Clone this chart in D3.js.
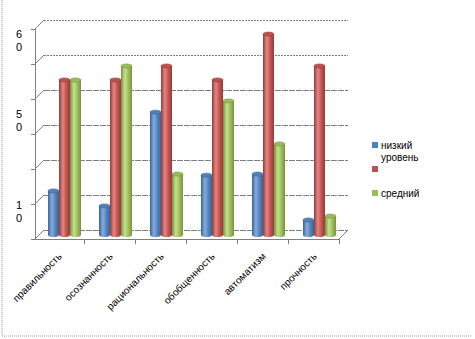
<!DOCTYPE html>
<html><head><meta charset="utf-8">
<script src="https://cdn.jsdelivr.net/npm/d3@7"></script>
<style>body{margin:0;background:#fff}svg{display:block}text{font-family:"Liberation Sans",Arial,sans-serif;fill:#000}</style>
</head><body><svg id="c" width="475" height="339"></svg>
<script>
const categories = ["правильность","осознанность","рациональность","обобщенность","автоматизм","прочность"];
const lowValues = [12.6, 8.3, 35.1, 17.1, 17.4, 4.3];
const highValues = [44.3, 44.3, 48.3, 44.3, 57.4, 48.3];
const midValues = [44.3, 48.3, 17.4, 38.3, 26, 5.4];
const seriesNames = ["низкий уровень", "", "средний"];
const legendLines = [["низкий","уровень"], [], ["средний"]];
const gridValues = [0,10,20,30,40,50,60];
const yLabelTexts = ["60","50","10"];
const yLabelAt = [57, 34, 8];

const colors = [
  {base:"#4F81BD", light:"#86acdc", dark:"#3a6496"},
  {base:"#C0504D", light:"#e48683", dark:"#943b39"},
  {base:"#9BBB59", light:"#c8e08c", dark:"#76923f"}
];
const series = [lowValues, highValues, midValues];

const svg = d3.select("#c");
const defs = svg.append("defs");
colors.forEach((c,i)=>{
  const g = defs.append("linearGradient").attr("id","g"+i).attr("x1","0").attr("x2","1").attr("y1","0").attr("y2","0");
  g.append("stop").attr("offset","0").attr("stop-color",c.dark);
  g.append("stop").attr("offset","0.35").attr("stop-color",c.light);
  g.append("stop").attr("offset","0.7").attr("stop-color",c.base);
  g.append("stop").attr("offset","1").attr("stop-color",c.dark);
});

// frame
svg.append("line").attr("x1",2).attr("x2",2).attr("y1",0).attr("y2",336).attr("stroke","#999").attr("stroke-dasharray","1,1");
svg.append("line").attr("x1",2).attr("x2",472).attr("y1",336).attr("y2",336).attr("stroke","#999").attr("stroke-dasharray","1,1");

const x = d3.scaleBand().domain(categories).range([33,339]);
const y = d3.scaleLinear().domain([0,60]).range([239,29]);
const depth = 9;

// back wall gridlines
gridValues.forEach(v=>{
  svg.append("line").attr("x1",44).attr("x2",348).attr("y1",y(v)-depth+0.5).attr("y2",y(v)-depth+0.5)
    .attr("stroke","#7f7f7f").attr("stroke-dasharray", v>=50 ? "2,1" : "6,1");
  svg.append("line").attr("x1",35).attr("y1",y(v)).attr("x2",44).attr("y2",y(v)-depth).attr("stroke","#7f7f7f");
});

// front axis
svg.append("line").attr("x1",35.5).attr("x2",35.5).attr("y1",y(60)).attr("y2",y(0)).attr("stroke","#7f7f7f");
svg.selectAll(".yt").data(gridValues).join("line").attr("x1",31).attr("x2",35).attr("y1",d=>y(d)+0.5).attr("y2",d=>y(d)+0.5).attr("stroke","#7f7f7f");
// floor
svg.append("line").attr("x1",35).attr("x2",339).attr("y1",y(0)+0.5).attr("y2",y(0)+0.5).attr("stroke","#7f7f7f");
svg.append("line").attr("x1",339).attr("y1",y(0)).attr("x2",348).attr("y2",y(0)-depth).attr("stroke","#7f7f7f");
const bounds = categories.map(c=>x(c)).concat([x(categories[categories.length-1])+x.bandwidth()]);
svg.selectAll(".xt").data(bounds.slice(1)).join("line").attr("x1",d=>d+0.5).attr("x2",d=>d+0.5).attr("y1",y(0)).attr("y2",y(0)+5).attr("stroke","#7f7f7f");

// y labels (wrapped)
yLabelTexts.forEach((t,i)=>{
  const cy = y(yLabelAt[i]);
  const tx = svg.append("text").attr("x",19).attr("y",cy-2).attr("text-anchor","middle").style("font-size","11px");
  tx.append("tspan").attr("x",19).text(t[0]);
  tx.append("tspan").attr("x",19).attr("dy",13).text(t[1]);
});

// bars (cylinders)
const barW = 11, dx = 6, dy = -4, ry = 2;
const inner = d3.scaleBand().domain([0,1,2]).range([0,barW*3]);
categories.forEach((c,ci)=>{
  const cx0 = x(c) + x.bandwidth()/2 - barW*1.5 + dx;
  series.forEach((vals,si)=>{
    const bx = cx0 + inner(si);
    const top = y(vals[ci]) + dy;
    const bot = y(0) + dy;
    const g = svg.append("g");
    g.append("ellipse").attr("cx",bx+barW/2).attr("cy",bot).attr("rx",barW/2).attr("ry",ry).attr("fill","url(#g"+si+")");
    g.append("rect").attr("x",bx).attr("y",top).attr("width",barW).attr("height",bot-top).attr("fill","url(#g"+si+")");
    g.append("ellipse").attr("cx",bx+barW/2).attr("cy",top).attr("rx",barW/2).attr("ry",ry).attr("fill",colors[si].base).attr("stroke",colors[si].dark).attr("stroke-width",0.6);
  });
});

// category labels
categories.forEach(c=>{
  const px = x(c) + x.bandwidth()/2 + 4, py = 257;
  svg.append("text").attr("transform",`translate(${px},${py}) rotate(-45)`).attr("text-anchor","end")
    .style("font-size","10px").text(c);
});

// legend
const legY = [145, 169, 193];
seriesNames.forEach((n,i)=>{
  svg.append("rect").attr("x",372).attr("y",legY[i]-3).attr("width",6).attr("height",6).attr("fill",colors[i].base);
  legendLines[i].forEach((ln,j)=>{
    svg.append("text").attr("x",381).attr("y",legY[i]+4+j*12).style("font-size","10px").text(ln);
  });
});
</script></body></html>
